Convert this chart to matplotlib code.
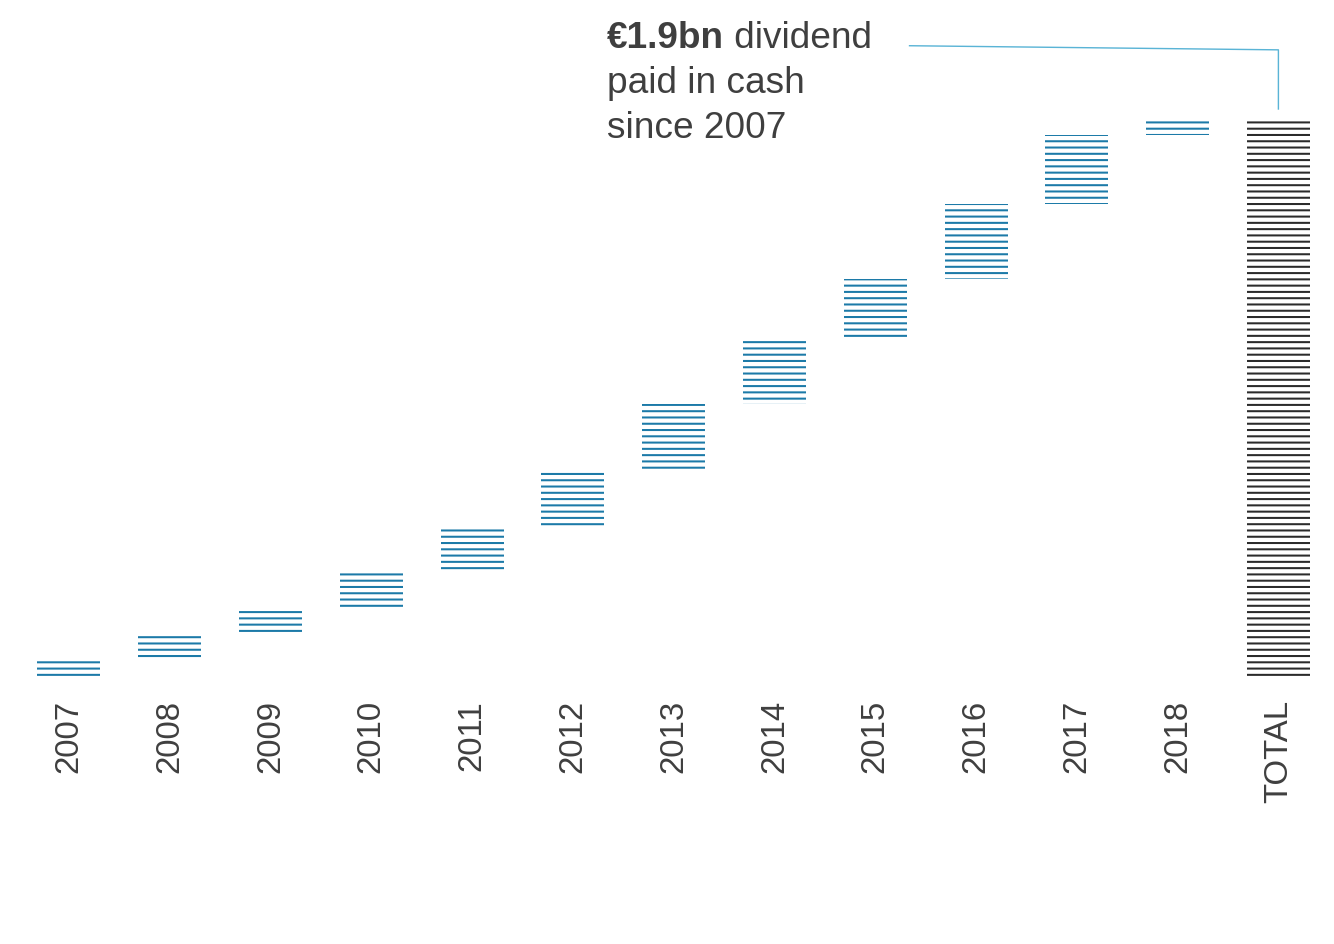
import matplotlib
matplotlib.use("Agg")
import matplotlib.pyplot as plt
import numpy as np

# dividend paid per year, EUR m
years = ["2007", "2008", "2009", "2010", "2011", "2012", "2013",
         "2014", "2015", "2016", "2017", "2018"]
dividends = [56, 86, 85, 127, 149, 201, 224, 212, 213, 255, 233, 59]
total_label = "TOTAL"

blue = "#1c7aa8"
dark = "#2b2b2b"
text_col = "#3f3f3f"
leader_col = "#5ab4d6"

DPI = 113
plt.rcParams["font.family"] = ["Liberation Sans", "DejaVu Sans"]
plt.rcParams["hatch.linewidth"] = 1.3

fig = plt.figure(figsize=(1334.2 / DPI, 944.2 / DPI), dpi=DPI)
ax = fig.add_axes([0.01394, 0.28284, 0.98201, 0.71716])

vals = np.array(dividends, dtype=float)
bottoms = np.concatenate([[0], np.cumsum(vals)[:-1]])
total = vals.sum()
x = np.arange(len(years))

ax.bar(x, vals, bottom=bottoms, width=0.625, color="none",
       edgecolor=blue, hatch="---", linewidth=0)
ax.bar(len(years), total, width=0.625, color="none",
       edgecolor=dark, hatch="---", linewidth=0)

ax.set_xlim(-0.5, len(years) + 0.5)
ax.set_ylim(0, total * 677 / 559)
ax.set_xticks(list(x) + [len(years)])
ax.set_xticklabels(years + [total_label], rotation=90, fontsize=21,
                   color=text_col)
ax.tick_params(axis="x", length=0, pad=14.5)
ax.set_yticks([])
for s in ax.spines.values():
    s.set_visible(False)

# annotation text
fs = 23.6
t1 = fig.text(607 / 1334, 1 - 48 / 944, "€1.9bn", fontsize=fs,
              fontweight="bold", color=text_col, va="baseline", ha="left")
ax.annotate(" dividend", xy=(1, 0), xycoords=t1, fontsize=fs,
            color=text_col, va="bottom", ha="left")
fig.text(607 / 1334, 1 - 93 / 944, "paid in cash", fontsize=fs,
         color=text_col, va="baseline", ha="left")
fig.text(607 / 1334, 1 - 138 / 944, "since 2007", fontsize=fs,
         color=text_col, va="baseline", ha="left")

# leader line to the total bar
ax.plot([8.34, len(years), len(years)],
        [total * 2145 / 1900, total * 2131 / 1900, total + 30],
        color=leader_col, lw=0.9, clip_on=False)

fig.savefig("out.png", dpi=DPI)
